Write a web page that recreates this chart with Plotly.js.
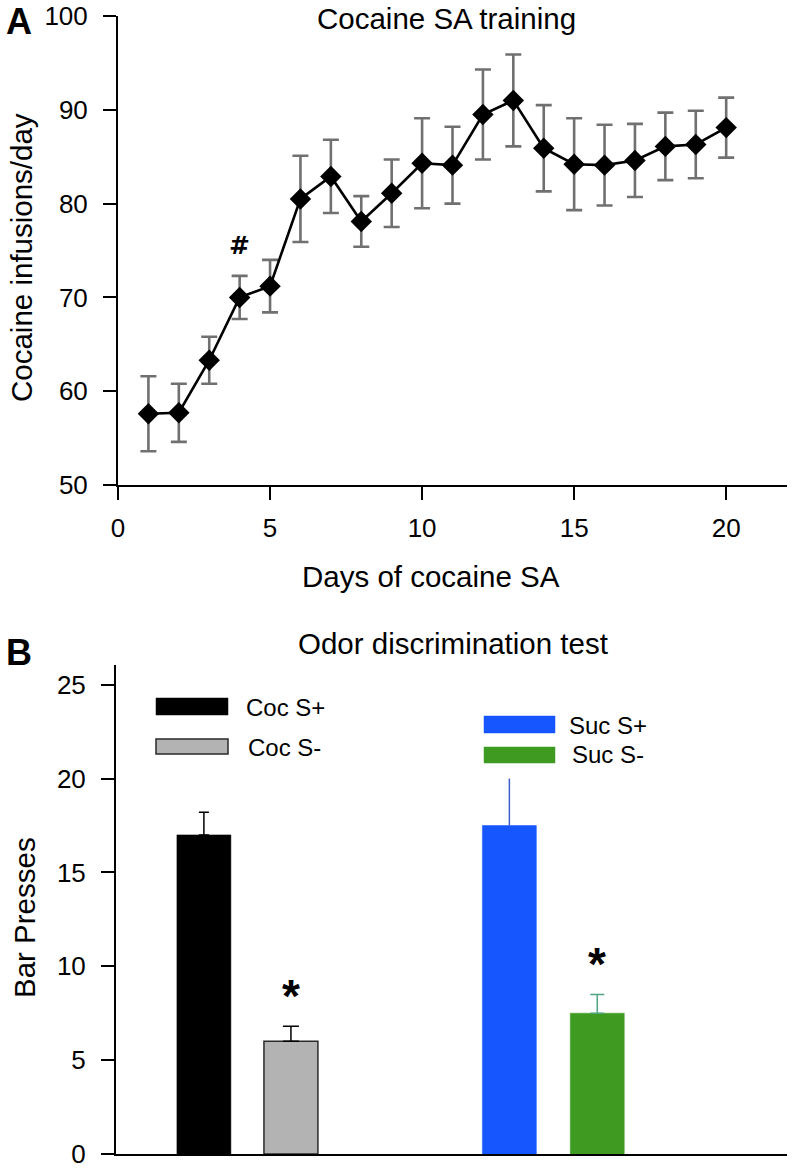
<!DOCTYPE html>
<html>
<head>
<meta charset="utf-8">
<script src="https://cdn.plot.ly/plotly-3.0.1.min.js"></script>
<style>
  html, body { margin: 0; padding: 0; background: #ffffff; }
  #chart { width: 792px; height: 1168px; }
</style>
</head>
<body>
<div id="chart"></div>
<script>
// ---------- Data: panel A (cocaine self-administration training) ----------
const days = [1, 2, 3, 4, 5, 6, 7, 8, 9, 10, 11, 12, 13, 14, 15, 16, 17, 18, 19, 20];
const infusionsMean = [57.6, 57.7, 63.3, 70.0, 71.2, 80.5, 82.9, 78.1, 81.1, 84.3,
                       84.1, 89.5, 91.0, 85.9, 84.2, 84.1, 84.6, 86.1, 86.3, 88.1];
const infusionsSEM  = [4.0, 3.1, 2.5, 2.3, 2.8, 4.6, 3.9, 2.7, 3.6, 4.8,
                       4.1, 4.8, 4.9, 4.6, 4.9, 4.3, 3.9, 3.6, 3.6, 3.2];
const xTicksA = [0, 5, 10, 15, 20];
const yTicksA = [50, 60, 70, 80, 90, 100];

// ---------- Data: panel B (odor discrimination test) ----------
const conditions = ['Coc S+', 'Coc S-', 'Suc S+', 'Suc S-'];
const pressesMean = [17.0, 6.0, 17.5, 7.5];
const pressesSEM  = [1.2, 0.8, 2.5, 1.0];
const yTicksB = [0, 5, 10, 15, 20, 25];

// ---------- Layout helpers (pixel -> paper) ----------
const W = 792, H = 1168;
const px = x => x / W;
const py = y => 1 - y / H;

// bar slot positions on panel B's x axis (layout, not data)
const barSlots = [1.01, 2.01, 4.52, 5.53];
const barFill  = ['#000000', '#b3b3b3', '#1556ff', '#3f9a22'];
const barLine  = ['#000000', '#2a2a2a', '#1556ff', '#3f9a22'];
const errColor = ['#000000', '#000000', '#3b5fc9', '#4ea57e'];
const errCap   = [5, 8, 0, 7];

const FONT = 'Liberation Sans, Arial, Helvetica, sans-serif';
const MARKFONT = 'DejaVu Sans, Liberation Sans, sans-serif';

const traces = [];

// Panel A line + error bars
traces.push({
  type: 'scatter', mode: 'lines+markers',
  x: days, y: infusionsMean,
  xaxis: 'x', yaxis: 'y',
  line: { color: '#000000', width: 2.6 },
  marker: { symbol: 'diamond', size: 16.5, color: '#000000' },
  error_y: { type: 'data', array: infusionsSEM, visible: true,
             color: '#707070', thickness: 2.6, width: 8 },
  showlegend: false, hoverinfo: 'x+y'
});

// Panel B bars
conditions.forEach((c, i) => {
  traces.push({
    type: 'bar',
    x: [barSlots[i]], y: [pressesMean[i]],
    name: c,
    xaxis: 'x2', yaxis: 'y2',
    width: 0.62,
    marker: { color: barFill[i], line: { color: barLine[i], width: i === 1 ? 1.5 : 0.5 } },
    error_y: { type: 'data', symmetric: false,
               array: [pressesSEM[i]], arrayminus: [0],
               color: errColor[i], thickness: 1.5, width: errCap[i], visible: true },
    showlegend: false
  });
});

const axisCommon = {
  showline: true, linecolor: '#000000', linewidth: 2,
  ticks: 'outside', ticklen: 13, tickwidth: 2, tickcolor: '#000000',
  showgrid: false, zeroline: false,
  tickfont: { family: FONT, size: 26, color: '#000000' },
  ticklabeloverflow: 'allow',
  fixedrange: true
};

function note(text, x, y, size, extra, family) {
  return Object.assign({
    text: text, x: x, y: y, xref: 'paper', yref: 'paper',
    xanchor: 'center', yanchor: 'middle', showarrow: false,
    font: { family: family || FONT, size: size, color: '#000' }
  }, extra || {});
}

const annotations = [
  // Panel letters
  note('<b>A</b>', px(19), py(21), 36),
  note('<b>B</b>', px(19), py(652), 36),
  // Panel titles
  note('Cocaine SA training', px(446), py(18), 29.5),
  note('Odor discrimination test', px(453), py(643), 29.5),
  // Axis titles
  note('Cocaine infusions/day', px(22), py(258), 29.5, { textangle: -90 }),
  note('Days of cocaine SA', px(431), py(577), 29.5),
  note('Bar Presses', px(24), py(918), 29.5, { textangle: -90 }),
  // Significance marks
  note('<b>#</b>', days[3], 75.5, 25, { xref: 'x', yref: 'y' }, MARKFONT),
  note('<b>*</b>', barSlots[1], 8.4, 46, { xref: 'x2', yref: 'y2' }),
  note('<b>*</b>', barSlots[3], 10.1, 46, { xref: 'x2', yref: 'y2' }),
];

// Legend (drawn manually in two columns)
const legendItems = [
  { label: conditions[0], x0: 156, x1: 228, y0: 698, y1: 715, tx: 244, ty: 707 },
  { label: conditions[1], x0: 156, x1: 228, y0: 739, y1: 754, tx: 246, ty: 747 },
  { label: conditions[2], x0: 484, x1: 555, y0: 716, y1: 733, tx: 567, ty: 725 },
  { label: conditions[3], x0: 484, x1: 555, y0: 747, y1: 763, tx: 570, ty: 755 },
];
const shapes = [];
legendItems.forEach((it, i) => {
  shapes.push({
    type: 'rect', xref: 'paper', yref: 'paper',
    x0: px(it.x0), x1: px(it.x1), y0: py(it.y1), y1: py(it.y0),
    fillcolor: barFill[i],
    line: { color: i === 1 ? '#2a2a2a' : barFill[i], width: i === 1 ? 1.5 : 0.5 }
  });
  annotations.push(note(it.label, px(it.tx), py(it.ty), 24, { xanchor: 'left' }));
});

const layout = {
  width: W, height: H,
  margin: { l: 0, r: 0, t: 0, b: 0, pad: 0 },
  paper_bgcolor: '#ffffff', plot_bgcolor: '#ffffff',
  showlegend: false,
  font: { family: FONT, color: '#000' },
  xaxis: Object.assign({}, axisCommon, {
    domain: [px(118), px(787)], anchor: 'y',
    range: [0, 22], tickvals: xTicksA, ticklabelstandoff: 6
  }),
  yaxis: Object.assign({}, axisCommon, {
    domain: [py(485), py(16)], anchor: 'x',
    range: [50, 100], tickvals: yTicksA, ticklabelstandoff: 10
  }),
  xaxis2: Object.assign({}, axisCommon, {
    domain: [px(116), px(787)], anchor: 'y2',
    range: [0, 7.71], ticks: '', showticklabels: false
  }),
  yaxis2: Object.assign({}, axisCommon, {
    domain: [py(1154), py(665)], anchor: 'x2',
    range: [0, 26.05], tickvals: yTicksB, ticklabelstandoff: 10
  }),
  bargap: 0,
  annotations: annotations,
  shapes: shapes
};

Plotly.newPlot('chart', traces, layout, { displayModeBar: false, staticPlot: true });
</script>
</body>
</html>
